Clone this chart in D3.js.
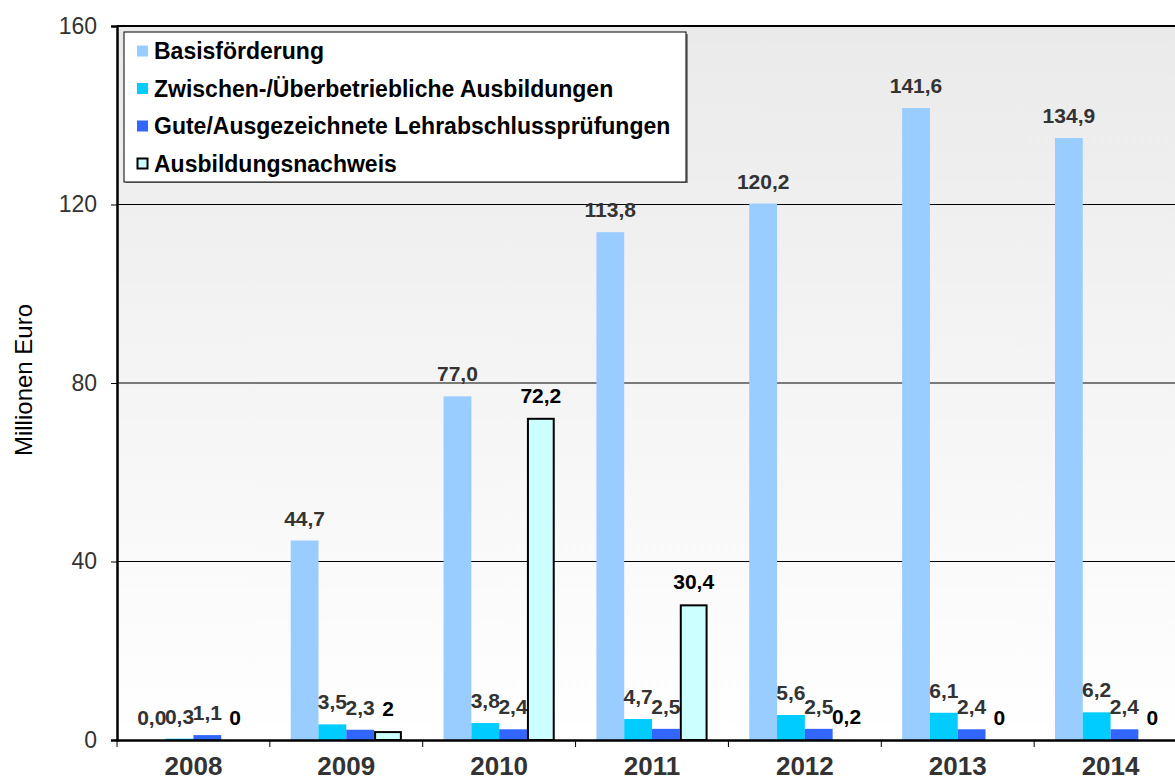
<!DOCTYPE html>
<html>
<head>
<meta charset="utf-8">
<script src="https://cdn.jsdelivr.net/npm/d3@7"></script>
<style>
  body { margin: 0; background: #fff; }
  svg { display: block; font-family: "Liberation Sans", Arial, sans-serif; }
</style>
</head>
<body>
<script>
// data
const years = ["2008", "2009", "2010", "2011", "2012", "2013", "2014"];
const seriesNames = ["Basisförderung", "Zwischen-/Überbetriebliche Ausbildungen", "Gute/Ausgezeichnete Lehrabschlussprüfungen", "Ausbildungsnachweis"];
const basis = [0.0, 44.7, 77.0, 113.8, 120.2, 141.6, 134.9];
const zwischen = [0.3, 3.5, 3.8, 4.7, 5.6, 6.1, 6.2];
const gute = [1.1, 2.3, 2.4, 2.5, 2.5, 2.4, 2.4];
const nachweis = [0, 2, 72.2, 30.4, 0.2, 0, 0];
const yTicks = [0, 40, 80, 120, 160];

const colors = ["#99ccff", "#00ccff", "#3366ff", "#ccffff"];
const allSeries = [basis, zwischen, gute, nachweis];

const width = 1175, height = 781;
const x0 = 117, x1 = 1187, yTop = 26, yBot = 740;

const svg = d3.select("body").append("svg")
  .attr("width", width)
  .attr("height", height);

const defs = svg.append("defs");
const grad = defs.append("linearGradient")
  .attr("id", "bg").attr("x1", 0).attr("y1", 0).attr("x2", 0).attr("y2", 1);
grad.append("stop").attr("offset", "0%").attr("stop-color", "#eaeaea");
grad.append("stop").attr("offset", "100%").attr("stop-color", "#ffffff");

const x = d3.scaleBand().domain(years).range([x0, x1]).paddingInner(0).paddingOuter(0);
const bw = x.bandwidth() / 5.5;
const gap = bw * 0.75;

const y = d3.scaleLinear().domain([0, 160]).range([yBot, yTop]);

// plot background
svg.append("rect")
  .attr("x", x0).attr("y", yTop)
  .attr("width", x1 - x0).attr("height", yBot - yTop)
  .attr("fill", "url(#bg)");

// gridlines
svg.append("g")
  .selectAll("line")
  .data(yTicks.filter(d => d > 0 && d < 160))
  .join("line")
  .attr("x1", x0).attr("x2", x1)
  .attr("y1", d => y(d)).attr("y2", d => y(d))
  .attr("stroke", "#000").attr("stroke-width", 1);

// top border
svg.append("line")
  .attr("x1", x0).attr("x2", x1)
  .attr("y1", yTop).attr("y2", yTop)
  .attr("stroke", "#000").attr("stroke-width", 2);

// bars
allSeries.forEach((vals, s) => {
  const g = svg.append("g");
  g.selectAll("rect")
    .data(vals)
    .join("rect")
    .attr("x", (d, i) => x(years[i]) + gap + s * bw + (s === 3 ? 1 : 0))
    .attr("y", d => y(d) + (s === 3 ? 1 : 0))
    .attr("width", bw - (s === 3 ? 2 : 0))
    .attr("height", d => Math.max(0, yBot - y(d) - (s === 3 ? 1 : 0)))
    .attr("fill", colors[s])
    .attr("stroke", s === 3 ? "#000" : "none")
    .attr("stroke-width", s === 3 ? 2 : 0);

  g.selectAll("text")
    .data(vals)
    .join("text")
    .attr("x", (d, i) => x(years[i]) + gap + s * bw + bw / 2)
    .attr("y", d => y(d) - 15)
    .attr("text-anchor", "middle")
    .attr("font-size", 21)
    .attr("font-weight", "bold")
    .attr("fill", s === 3 ? "#000" : "#333")
    .text(d => {
      if (s === 3 && Number.isInteger(d)) return String(d);
      return d.toFixed(1).replace(".", ",");
    });
});

// y axis
const yAxis = svg.append("g")
  .attr("transform", `translate(${x0},0)`)
  .call(d3.axisLeft(y).tickValues(yTicks).tickSize(6).tickPadding(14));
yAxis.select(".domain").attr("stroke", "#000").attr("stroke-width", 2.5);
yAxis.selectAll(".tick line").attr("stroke", "#000").attr("stroke-width", 1);
yAxis.selectAll(".tick text")
  .attr("font-size", 23)
  .attr("font-family", "Liberation Sans, Arial, sans-serif")
  .attr("fill", "#333");

// x axis
const xAxis = svg.append("g")
  .attr("transform", `translate(0,${yBot})`)
  .call(d3.axisBottom(x).tickSize(0).tickPadding(17));
xAxis.select(".domain").attr("stroke", "#000").attr("stroke-width", 2.5);
xAxis.selectAll(".tick text")
  .attr("font-size", 26)
  .attr("font-weight", "bold")
  .attr("font-family", "Liberation Sans, Arial, sans-serif")
  .attr("fill", "#333");
// category boundary ticks
svg.append("g")
  .selectAll("line")
  .data(years.concat(["end"]))
  .join("line")
  .attr("x1", (d, i) => x0 + i * x.bandwidth())
  .attr("x2", (d, i) => x0 + i * x.bandwidth())
  .attr("y1", yBot).attr("y2", yBot + 7)
  .attr("stroke", "#000").attr("stroke-width", 1);

// y axis title
svg.append("text")
  .attr("transform", "translate(32,380) rotate(-90)")
  .attr("text-anchor", "middle")
  .attr("font-size", 24)
  .attr("fill", "#000")
  .text("Millionen Euro");

// legend
const lg = svg.append("g");
lg.append("rect")
  .attr("x", 126).attr("y", 34).attr("width", 562).attr("height", 149)
  .attr("fill", "#888");
lg.append("rect")
  .attr("x", 124).attr("y", 32).attr("width", 562).attr("height", 150)
  .attr("fill", "#fff").attr("stroke", "#000").attr("stroke-width", 1);

seriesNames.forEach((name, i) => {
  const cy = 51 + i * 37.5;
  lg.append("rect")
    .attr("x", 137 + (i === 3 ? 0.5 : 0)).attr("y", cy - 5.5 + (i === 3 ? 0.5 : 0))
    .attr("width", 11 - (i === 3 ? 1 : 0)).attr("height", 11 - (i === 3 ? 1 : 0))
    .attr("fill", colors[i])
    .attr("stroke", i === 3 ? "#000" : "none")
    .attr("stroke-width", i === 3 ? 2 : 0);
  lg.append("text")
    .attr("x", 154).attr("y", cy + 8)
    .attr("font-size", 23)
    .attr("font-weight", "bold")
    .attr("fill", "#000")
    .text(name);
});
</script>
</body>
</html>
